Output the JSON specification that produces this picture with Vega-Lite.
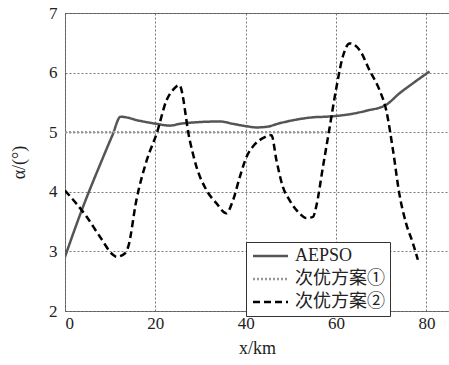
{
  "$schema": "https://vega.github.io/schema/vega-lite/v6.json",
  "width": 384,
  "height": 298,
  "autosize": {"type": "none"},
  "padding": {"left": 65, "top": 13, "right": 0, "bottom": 54},
  "background": "white",
  "config": {
    "view": {"stroke": "#777", "strokeWidth": 1},
    "font": "Liberation Serif"
  },
  "data": {
    "values": [
      {"s": "AEPSO", "x": 0, "y": 2.91},
      {"s": "AEPSO", "x": 4, "y": 3.75},
      {"s": "AEPSO", "x": 8, "y": 4.5},
      {"s": "AEPSO", "x": 10.5, "y": 4.95},
      {"s": "AEPSO", "x": 12.3, "y": 5.26},
      {"s": "AEPSO", "x": 16.6, "y": 5.19},
      {"s": "AEPSO", "x": 20.3, "y": 5.14},
      {"s": "AEPSO", "x": 23.2, "y": 5.11},
      {"s": "AEPSO", "x": 25.4, "y": 5.14},
      {"s": "AEPSO", "x": 29.8, "y": 5.17},
      {"s": "AEPSO", "x": 34.3, "y": 5.18},
      {"s": "AEPSO", "x": 37.2, "y": 5.14},
      {"s": "AEPSO", "x": 40.2, "y": 5.1},
      {"s": "AEPSO", "x": 42.4, "y": 5.08},
      {"s": "AEPSO", "x": 44.6, "y": 5.09},
      {"s": "AEPSO", "x": 47.5, "y": 5.15},
      {"s": "AEPSO", "x": 51.9, "y": 5.22},
      {"s": "AEPSO", "x": 54.9, "y": 5.25},
      {"s": "AEPSO", "x": 57.8, "y": 5.26},
      {"s": "AEPSO", "x": 63.7, "y": 5.31},
      {"s": "AEPSO", "x": 66.7, "y": 5.36},
      {"s": "AEPSO", "x": 71.1, "y": 5.46},
      {"s": "AEPSO", "x": 74.0, "y": 5.65},
      {"s": "AEPSO", "x": 77.0, "y": 5.82},
      {"s": "AEPSO", "x": 80.7, "y": 6.02},
      {"s": "次优方案①", "x": 0, "y": 5.0},
      {"s": "次优方案①", "x": 20, "y": 5.0},
      {"s": "次优方案①", "x": 40, "y": 5.0},
      {"s": "次优方案①", "x": 58, "y": 5.0},
      {"s": "次优方案②", "x": 0, "y": 4.02},
      {"s": "次优方案②", "x": 4.8, "y": 3.58},
      {"s": "次优方案②", "x": 7.7, "y": 3.25},
      {"s": "次优方案②", "x": 10.7, "y": 2.94},
      {"s": "次优方案②", "x": 11.4, "y": 2.91},
      {"s": "次优方案②", "x": 13.3, "y": 2.97},
      {"s": "次优方案②", "x": 14.0, "y": 3.08},
      {"s": "次优方案②", "x": 15.8, "y": 3.86},
      {"s": "次优方案②", "x": 18.1, "y": 4.53},
      {"s": "次优方案②", "x": 20.3, "y": 4.98},
      {"s": "次优方案②", "x": 22.5, "y": 5.54},
      {"s": "次优方案②", "x": 23.9, "y": 5.71},
      {"s": "次优方案②", "x": 25.3, "y": 5.79},
      {"s": "次优方案②", "x": 27.6, "y": 4.87},
      {"s": "次优方案②", "x": 29.1, "y": 4.42},
      {"s": "次优方案②", "x": 31.3, "y": 4.03},
      {"s": "次优方案②", "x": 33.5, "y": 3.81},
      {"s": "次优方案②", "x": 35.7, "y": 3.64},
      {"s": "次优方案②", "x": 37.2, "y": 3.86},
      {"s": "次优方案②", "x": 38.7, "y": 4.25},
      {"s": "次优方案②", "x": 40.2, "y": 4.59},
      {"s": "次优方案②", "x": 41.6, "y": 4.76},
      {"s": "次优方案②", "x": 43.8, "y": 4.9},
      {"s": "次优方案②", "x": 45.7, "y": 4.95},
      {"s": "次优方案②", "x": 46.8, "y": 4.53},
      {"s": "次优方案②", "x": 48.2, "y": 4.09},
      {"s": "次优方案②", "x": 49.7, "y": 3.86},
      {"s": "次优方案②", "x": 51.9, "y": 3.64},
      {"s": "次优方案②", "x": 53.4, "y": 3.56},
      {"s": "次优方案②", "x": 54.9, "y": 3.58},
      {"s": "次优方案②", "x": 55.6, "y": 3.75},
      {"s": "次优方案②", "x": 57.1, "y": 4.42},
      {"s": "次优方案②", "x": 58.6, "y": 5.09},
      {"s": "次优方案②", "x": 60.1, "y": 5.76},
      {"s": "次优方案②", "x": 61.5, "y": 6.27},
      {"s": "次优方案②", "x": 63.0, "y": 6.49},
      {"s": "次优方案②", "x": 65.2, "y": 6.38},
      {"s": "次优方案②", "x": 67.4, "y": 6.04},
      {"s": "次优方案②", "x": 69.6, "y": 5.71},
      {"s": "次优方案②", "x": 71.1, "y": 5.37},
      {"s": "次优方案②", "x": 72.6, "y": 4.7},
      {"s": "次优方案②", "x": 74.0, "y": 3.97},
      {"s": "次优方案②", "x": 75.5, "y": 3.47},
      {"s": "次优方案②", "x": 77.0, "y": 3.14},
      {"s": "次优方案②", "x": 78.1, "y": 2.86}
    ]
  },
  "mark": {"type": "line", "strokeWidth": 2.5, "clip": true, "interpolate": "monotone"},
  "encoding": {
    "x": {
      "field": "x", "type": "quantitative",
      "scale": {"domain": [0, 85], "nice": false, "zero": false},
      "axis": {
        "values": [0, 20, 40, 60, 80],
        "title": "x/km",
        "titleFont": "Liberation Serif", "titleFontSize": 18, "titleFontWeight": "normal", "titleColor": "#222",
        "titlePadding": 8,
        "labelFont": "Liberation Serif", "labelFontSize": 17, "labelColor": "#222",
        "labelPadding": 4,
        "domain": false, "ticks": false,
        "grid": true, "gridColor": "#555", "gridDash": [2, 2], "gridWidth": 0.8
      }
    },
    "y": {
      "field": "y", "type": "quantitative",
      "scale": {"domain": [2, 7], "nice": false, "zero": false},
      "axis": {
        "values": [2, 3, 4, 5, 6, 7],
        "title": "α/(°)",
        "titleFont": "Liberation Serif", "titleFontSize": 18, "titleFontWeight": "normal", "titleColor": "#222",
        "titlePadding": 20,
        "labelFont": "Liberation Serif", "labelFontSize": 17, "labelColor": "#222",
        "labelPadding": 8,
        "domain": false, "ticks": false,
        "grid": true, "gridColor": "#555", "gridDash": [2, 2], "gridWidth": 0.8
      }
    },
    "color": {
      "field": "s", "type": "nominal",
      "scale": {"domain": ["AEPSO", "次优方案①", "次优方案②"], "range": ["#555555", "#999999", "#000000"]},
      "legend": {
        "title": null,
        "orient": "none",
        "legendX": 181,
        "legendY": 229,
        "fillColor": "white",
        "strokeColor": "#333",
        "padding": 5,
        "symbolType": "M-1,0H4",
        "symbolSize": 196,
        "symbolStrokeWidth": 2.5,
        "labelFont": "Liberation Serif, Noto Sans CJK SC",
        "labelFontSize": 18,
        "labelColor": "#222",
        "labelOffset": 26,
        "rowPadding": 5,
        "labelLimit": 200
      }
    },
    "strokeDash": {
      "field": "s", "type": "nominal",
      "scale": {"domain": ["AEPSO", "次优方案①", "次优方案②"], "range": [[1, 0], [2, 2], [7, 4]]},
      "legend": null
    }
  }
}
